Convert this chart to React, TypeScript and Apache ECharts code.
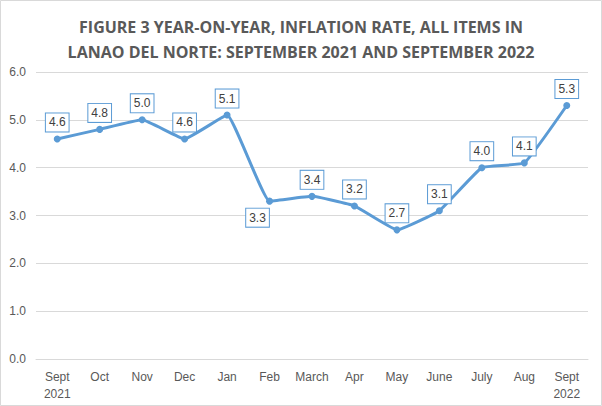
import React, { useEffect, useRef } from "react";
import * as echarts from "echarts";

const categories = ["Sept\n2021", "Oct", "Nov", "Dec", "Jan", "Feb", "March", "Apr", "May", "June", "July", "Aug", "Sept\n2022"];
const inflation = [4.6, 4.8, 5.0, 4.6, 5.1, 3.3, 3.4, 3.2, 2.7, 3.1, 4.0, 4.1, 5.3];
const titleLines = [
  "FIGURE 3 YEAR-ON-YEAR, INFLATION RATE, ALL ITEMS IN",
  "LANAO DEL NORTE: SEPTEMBER 2021 AND SEPTEMBER 2022",
];
const labelsBelow = ["Feb"];

export default function App() {
  const ref = useRef<HTMLDivElement>(null);
  useEffect(() => {
    if (!ref.current) return;
    const chart = echarts.init(ref.current, undefined, { renderer: "svg" });
    const data = inflation.map((v, i) => {
      const below = labelsBelow.includes(categories[i]);
      return below
        ? { value: v, label: { position: "bottom", offset: [-12, 0] } }
        : { value: v };
    });
    chart.setOption({
      animation: false,
      backgroundColor: "#ffffff",
      title: {
        text: titleLines.join("\n"),
        left: "center",
        top: 9,
        textStyle: {
          fontFamily: "Open Sans",
          fontWeight: "bold",
          fontSize: 16,
          lineHeight: 25,
          color: "#595959",
        },
      },
      graphic: [
        {
          type: "rect",
          shape: { x: 0.5, y: 0.5, width: 601, height: 405 },
          style: { fill: "none", stroke: "#D9D9D9", lineWidth: 1 },
          silent: true,
        },
      ],
      grid: { left: 36, right: 14, top: 72, bottom: 47, containLabel: false },
      xAxis: {
        type: "category",
        data: categories,
        boundaryGap: true,
        axisLine: { show: true, lineStyle: { color: "#D9D9D9", width: 1 } },
        axisTick: { show: false },
        axisLabel: {
          color: "#595959",
          fontFamily: "Liberation Sans",
          fontSize: 12,
          lineHeight: 17,
          margin: 9,
          interval: 0,
        },
      },
      yAxis: {
        type: "value",
        min: 0,
        max: 6,
        interval: 1,
        axisLine: { show: false },
        axisTick: { show: false },
        splitLine: { lineStyle: { color: "#D9D9D9", width: 1 } },
        axisLabel: {
          color: "#595959",
          fontFamily: "Liberation Sans",
          fontSize: 12,
          margin: 10,
          formatter: (v: number) => v.toFixed(1),
        },
      },
      series: [
        {
          type: "line",
          data,
          smooth: 0.1,
          symbol: "circle",
          symbolSize: 7,
          lineStyle: { color: "#5B9BD5", width: 3 },
          itemStyle: { color: "#5B9BD5" },
          label: {
            show: true,
            position: "top",
            distance: 4,
            formatter: (p: any) => Number(p.value).toFixed(1),
            color: "#404040",
            fontFamily: "Liberation Sans",
            fontSize: 12,
            lineHeight: 14,
            backgroundColor: "#ffffff",
            borderColor: "#5B9BD5",
            borderWidth: 1,
            padding: [2, 3, 2, 3],
          },
        },
      ],
    });
    return () => chart.dispose();
  }, []);
  return (
    <div
      ref={ref}
      style={{ position: "fixed", left: 0, top: 0, width: 602, height: 406 }}
    />
  );
}
